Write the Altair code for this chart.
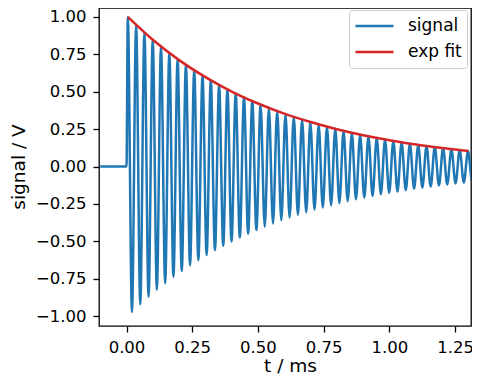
import altair as alt
import pandas as pd

# ---- data ----
# pre-trigger baseline (signal is flat at 0 V before t = 0)
base_t = [-0.1, 0.0]
base_v = [0.0, 0.0]

# alternating peaks / troughs of the ringing signal (t in ms, value in V)
ext_t = [0.0050, 0.0208, 0.0366, 0.0523, 0.0681, 0.0839, 0.0997, 0.1154, 0.1312, 0.1470,
         0.1628, 0.1785, 0.1943, 0.2101, 0.2259, 0.2416, 0.2574, 0.2732, 0.2890, 0.3047,
         0.3205, 0.3363, 0.3521, 0.3678, 0.3836, 0.3994, 0.4152, 0.4309, 0.4467, 0.4625,
         0.4783, 0.4940, 0.5098, 0.5256, 0.5414, 0.5571, 0.5729, 0.5887, 0.6045, 0.6202,
         0.6360, 0.6518, 0.6676, 0.6833, 0.6991, 0.7149, 0.7307, 0.7464, 0.7622, 0.7780,
         0.7938, 0.8095, 0.8253, 0.8411, 0.8569, 0.8726, 0.8884, 0.9042, 0.9200, 0.9357,
         0.9515, 0.9673, 0.9831, 0.9988, 1.0146, 1.0304, 1.0462, 1.0619, 1.0777, 1.0935,
         1.1093, 1.1250, 1.1408, 1.1566, 1.1724, 1.1881, 1.2039, 1.2197, 1.2355, 1.2512,
         1.2670, 1.2828, 1.2986, 1.3143, 1.3301]
ext_v = [1.000, -0.973, 0.946, -0.921, 0.896, -0.871, 0.847, -0.824, 0.802, -0.780,
         0.759, -0.738, 0.718, -0.699, 0.680, -0.661, 0.643, -0.626, 0.609, -0.592,
         0.576, -0.560, 0.545, -0.530, 0.516, -0.502, 0.488, -0.475, 0.462, -0.449,
         0.437, -0.425, 0.414, -0.402, 0.392, -0.381, 0.371, -0.360, 0.351, -0.341,
         0.332, -0.323, 0.314, -0.306, 0.297, -0.289, 0.281, -0.274, 0.266, -0.259,
         0.252, -0.245, 0.238, -0.232, 0.226, -0.219, 0.213, -0.208, 0.202, -0.197,
         0.191, -0.186, 0.181, -0.176, 0.171, -0.167, 0.162, -0.158, 0.153, -0.149,
         0.145, -0.141, 0.137, -0.134, 0.130, -0.126, 0.123, -0.120, 0.116, -0.113,
         0.110, -0.107, 0.104, -0.101, 0.099]

# exponential envelope fit
fit_t = [0.005, 0.1, 0.2, 0.3, 0.4, 0.5, 0.6, 0.7, 0.8, 0.9, 1.0, 1.1, 1.2, 1.3]
fit_v = [1.000, 0.847, 0.711, 0.597, 0.501, 0.421, 0.353, 0.297, 0.249, 0.209,
         0.176, 0.147, 0.124, 0.104]

series_names = ["signal", "exp fit"]
series_colors = ["#1f77b4", "#d62728"]

x_ticks = [0.0, 0.25, 0.5, 0.75, 1.0, 1.25]
y_ticks = [-1.0, -0.75, -0.5, -0.25, 0.0, 0.25, 0.5, 0.75, 1.0]

sig_df = pd.DataFrame({"t": base_t + ext_t, "v": base_v + ext_v, "series": series_names[0]})
fit_df = pd.DataFrame({"t": fit_t, "v": fit_v, "series": series_names[1]})

FONT = "DejaVu Sans"
TICK_FS = 16.5
TITLE_FS = 18.5
LEG_FS = 17

W, H = 372, 318

xs = alt.Scale(domain=[-0.1046, 1.31], nice=False, zero=False)
ys = alt.Scale(domain=[-1.066, 1.0594], nice=False, zero=False)
cs = alt.Scale(domain=series_names, range=series_colors)

x_axis = alt.Axis(values=x_ticks, format=".2f", title="t / ms", grid=False, domain=False,
                  tickSize=6, tickWidth=1.3, tickColor="black",
                  labelPadding=20.5, labelBaseline="alphabetic", labelOverlap=False, labelFlush=False,
                  labelFontSize=TICK_FS, labelFont=FONT, labelColor="black",
                  titleFontSize=TITLE_FS, titleFont=FONT, titleFontWeight="normal", titleColor="black",
                  titleX=191, titleY=45.5, titleBaseline="alphabetic", titleAlign="center")
y_axis = alt.Axis(values=y_ticks, format=".2f", title="signal / V", grid=False, domain=False,
                  tickSize=6, tickWidth=1.3, tickColor="black", labelPadding=7,
                  labelOverlap=False, labelFlush=False,
                  labelFontSize=TICK_FS, labelFont=FONT, labelColor="black",
                  titleFontSize=TITLE_FS, titleFont=FONT, titleFontWeight="normal", titleColor="black",
                  titleX=-81, titleY=158.5, titleBaseline="middle", titleAlign="center", titleAngle=270)

legend = alt.Legend(title=None, orient="none", legendX=250, legendY=2,
                    symbolType="stroke", symbolSize=1444, symbolStrokeWidth=2.5,
                    clipHeight=22,
                    labelFontSize=LEG_FS, labelFont=FONT, labelColor="black", labelOffset=13,
                    padding=5, rowPadding=4, strokeColor="#cccccc",
                    fillColor="rgba(255,255,255,0.8)", cornerRadius=3)

sig = alt.Chart(sig_df).mark_line(interpolate="monotone", strokeWidth=2.5, clip=True).encode(
    x=alt.X("t:Q", scale=xs, axis=x_axis),
    y=alt.Y("v:Q", scale=ys, axis=y_axis),
    color=alt.Color("series:N", scale=cs, legend=legend),
)
fit = alt.Chart(fit_df).mark_line(interpolate="monotone", strokeWidth=2.5, clip=True).encode(
    x=alt.X("t:Q", scale=xs, axis=x_axis),
    y=alt.Y("v:Q", scale=ys, axis=y_axis),
    color=alt.Color("series:N", scale=cs, legend=legend),
)

chart = alt.layer(sig, fit).properties(
    width=W, height=H,
    autosize=alt.AutoSizeParams(type="none"),
    padding={"left": 91, "top": 0, "right": 1, "bottom": 50},
    background="white",
).configure_view(stroke="black", strokeWidth=1.3)

chart.save("out.html", embed_options={"renderer": "svg", "actions": False})
